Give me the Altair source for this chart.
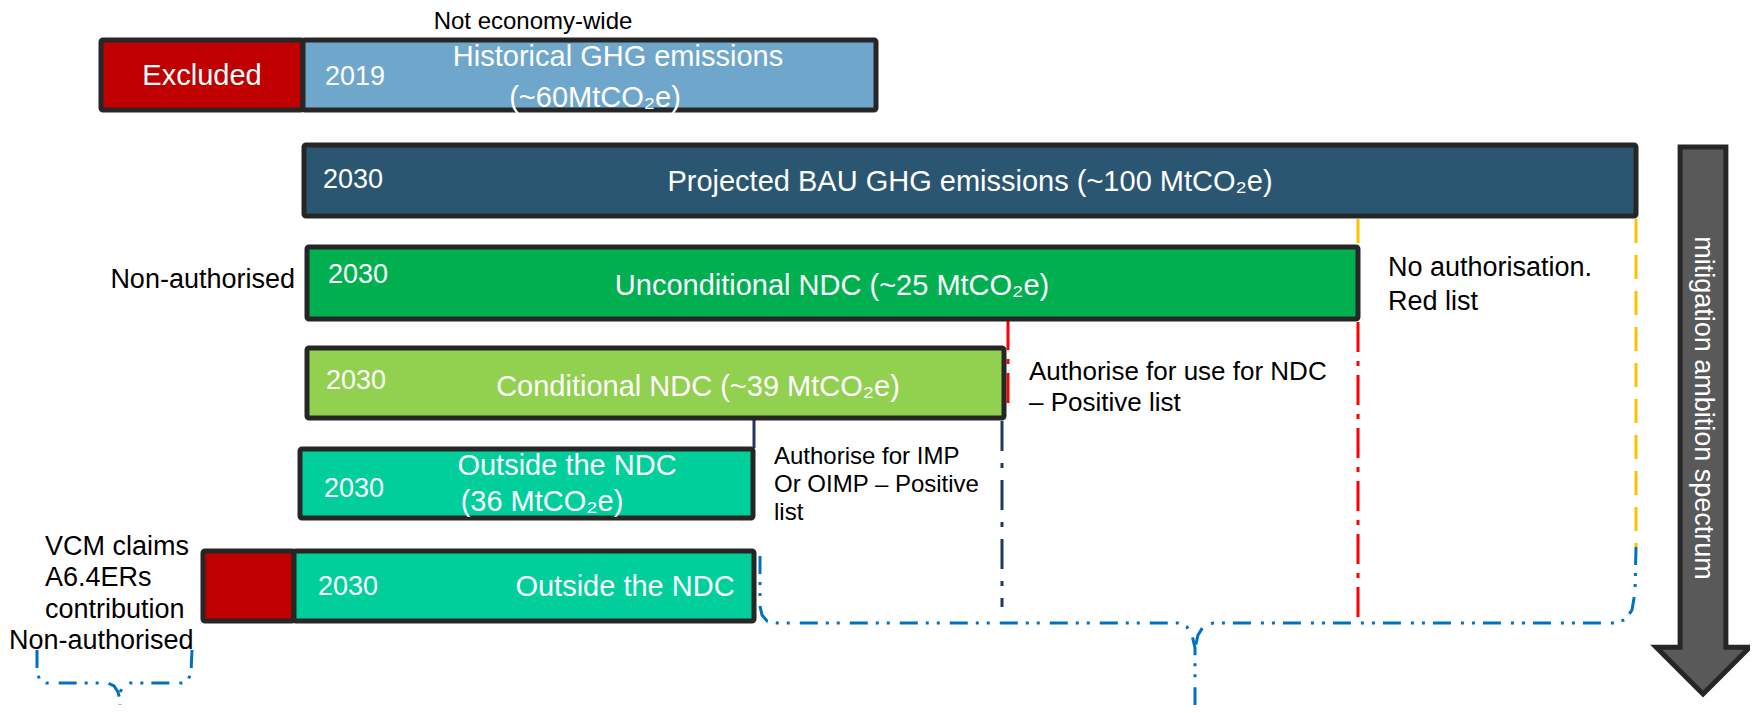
import altair as alt
import pandas as pd

FONT = "Liberation Sans"
BORDER = "#262626"

# ---------------- boxes (emission blocks) ----------------
box_names = ["Excluded", "Historical", "BAU", "Unconditional", "Conditional",
             "Outside NDC", "VCM excluded", "VCM outside"]
box_x0 = [101, 303, 304, 307, 307, 300, 203, 294]
box_x1 = [303, 876, 1636, 1358, 1004, 753, 294, 754]
box_y0 = [40, 40, 145, 247, 348, 449, 551, 551]
box_y1 = [110, 110, 216, 319, 418, 518, 621, 621]
box_fill = ["#C00000", "#6FA7CC", "#2B5672", "#00B050", "#92D050",
            "#00CF9C", "#C00000", "#00CF9C"]

# ---------------- vertical guide lines ----------------
yellow_x = [1358, 1636]
yellow_y0 = [219, 219]
yellow_y1 = [320, 547]

red_x = [1358, 1008]
red_y0 = [322, 320]
red_y1 = [622, 410]

navy_solid_x = [754]
navy_solid_y0 = [420]
navy_solid_y1 = [448]

navy_dd_x = [1002]
navy_dd_y0 = [421]
navy_dd_y1 = [607]

# ---------------- braces ----------------
big_left_x = [760, 760, 762, 767, 777, 1178, 1187, 1192, 1195, 1195]
big_left_y = [556, 606, 615, 621, 623, 623, 627, 635, 648, 712]
big_right_x = [1636, 1635, 1632, 1626, 1617, 1213, 1203, 1198, 1195]
big_right_y = [547, 592, 610, 619, 623, 623, 627, 635, 648]
small_left_x = [37, 37, 40, 46, 108, 114, 118, 120, 120]
small_left_y = [650, 673, 680, 683, 683, 686, 692, 700, 713]
small_right_x = [192, 191, 188, 182, 130, 124, 120]
small_right_y = [650, 673, 680, 683, 683, 686, 692]

# ---------------- texts ----------------
box_texts = ["Excluded", "Historical GHG emissions", "(~60MtCO₂e)",
             "Projected BAU GHG emissions (~100 MtCO₂e)",
             "Unconditional NDC (~25 MtCO₂e)",
             "Conditional  NDC (~39 MtCO₂e)",
             "Outside the NDC", "(36 MtCO₂e)", "Outside the NDC"]
box_text_x = [202, 618, 595, 970, 832, 698, 567, 542, 625]
box_text_y = [76, 57, 98, 182, 286, 387, 466, 502, 587]

year_texts = ["2019", "2030", "2030", "2030", "2030", "2030"]
year_x = [355, 353, 358, 356, 354, 348]
year_y = [77, 180, 275, 381, 489, 587]

left_texts = ["No authorisation.", "Red list",
              "Authorise for use for NDC", "– Positive list",
              "VCM claims", "A6.4ERs", "contribution", "Non-authorised",
              "Authorise for IMP", "Or OIMP – Positive", "list"]
left_x = [1388, 1388, 1029, 1029, 45, 45, 45, 9, 774, 774, 774]
left_y = [268, 302, 372, 403, 547, 578, 610, 641, 457, 485, 513]
left_size = [27, 27, 26, 26, 27, 27, 27, 27, 24, 24, 24]

center_black_texts = ["Not economy-wide"]
center_black_x = [533]
center_black_y = [22]

right_texts = ["Non-authorised"]
right_x = [295]
right_y = [280]

arrow_label = ["mitigation ambition spectrum"]
arrow_x = [1703]
arrow_y = [408]

# ---------------- scales ----------------
xs = alt.Scale(domain=[8, 1750], nice=False, zero=False)
ys = alt.Scale(domain=[8, 705], nice=False, zero=False, reverse=True)


def X(f):
    return alt.X(f, type="quantitative", scale=xs, axis=None)


def Y(f):
    return alt.Y(f, type="quantitative", scale=ys, axis=None)


boxes_df = pd.DataFrame({"name": box_names, "x0": box_x0, "x1": box_x1,
                         "y0": box_y0, "y1": box_y1, "fill": box_fill})
boxes = alt.Chart(boxes_df).mark_rect(
    stroke=BORDER, strokeWidth=5, cornerRadius=2
).encode(x=X("x0"), x2="x1", y=Y("y0"), y2="y1",
         fill=alt.Fill("fill:N", scale=None))


def rules(xv, y0, y1, color, dash=None, width=3):
    df = pd.DataFrame({"x": xv, "y0": y0, "y1": y1})
    kw = dict(color=color, strokeWidth=width)
    if dash is not None:
        kw["strokeDash"] = dash
    return alt.Chart(df).mark_rule(**kw).encode(x=X("x"), y=Y("y0"), y2="y1")


yellow = rules(yellow_x, yellow_y0, yellow_y1, "#FFC000", [24, 12])
red = rules(red_x, red_y0, red_y1, "#FF0000", [30, 9, 5, 9])
navy_s = rules(navy_solid_x, navy_solid_y0, navy_solid_y1, "#1F3864")
navy_d = rules(navy_dd_x, navy_dd_y0, navy_dd_y1, "#1F3864", [30, 12, 5, 12])

parts, bx, by, order = [], [], [], []
for pname, xv, yv in [("bl", big_left_x, big_left_y),
                      ("br", big_right_x, big_right_y),
                      ("sl", small_left_x, small_left_y),
                      ("sr", small_right_x, small_right_y)]:
    for i, (a, b) in enumerate(zip(xv, yv)):
        parts.append(pname)
        bx.append(a)
        by.append(b)
        order.append(i)
brace_df = pd.DataFrame({"part": parts, "x": bx, "y": by, "o": order})
braces = alt.Chart(brace_df).mark_line(
    color="#0070C0", strokeWidth=3, strokeDash=[18, 8, 3, 8, 3, 10]
).encode(x=X("x"), y=Y("y"), detail="part:N", order="o:Q")

# arrow drawn as a custom symbol (r = 52px per path unit)
arrow_path = ("M-0.44,-5.27 L0.44,-5.27 L0.44,4.35 L0.9,4.35 L0,5.25 "
              "L-0.9,4.35 L-0.44,4.35 Z")
arrow_df = pd.DataFrame({"x": [1703], "y": [421]})
arrow = alt.Chart(arrow_df).mark_point(
    shape=arrow_path, size=104 * 104, filled=True, fill="#595959",
    stroke=BORDER, strokeWidth=5, opacity=1, strokeJoin="miter"
).encode(x=X("x"), y=Y("y"))


def texts(tv, xv, yv, color, size, align, angle=0):
    df = pd.DataFrame({"t": tv, "x": xv, "y": yv,
                       "s": size if isinstance(size, list) else [size] * len(tv)})
    return alt.Chart(df).mark_text(
        font=FONT, color=color, align=align, baseline="middle", angle=angle
    ).encode(x=X("x"), y=Y("y"), text="t:N",
             size=alt.Size("s:Q", scale=None))


t_box = texts(box_texts, box_text_x, box_text_y, "white", 29, "center")
t_year = texts(year_texts, year_x, year_y, "white", 27, "center")
t_left = texts(left_texts, left_x, left_y, "black", left_size, "left")
t_cb = texts(center_black_texts, center_black_x, center_black_y, "black", 24, "center")
t_right = texts(right_texts, right_x, right_y, "black", 27, "right")
t_arrow = texts(arrow_label, arrow_x, arrow_y, "white", 27, "center", angle=90)

chart = alt.layer(
    yellow, red, navy_s, navy_d, braces, boxes, arrow,
    t_box, t_year, t_left, t_cb, t_right, t_arrow
).properties(
    width=1742, height=697, padding=0, background="white",
    autosize=alt.AutoSizeParams(type="none")
).configure_view(stroke=None, strokeWidth=0)

chart.save("out.html", embed_options={"renderer": "svg", "actions": False})
